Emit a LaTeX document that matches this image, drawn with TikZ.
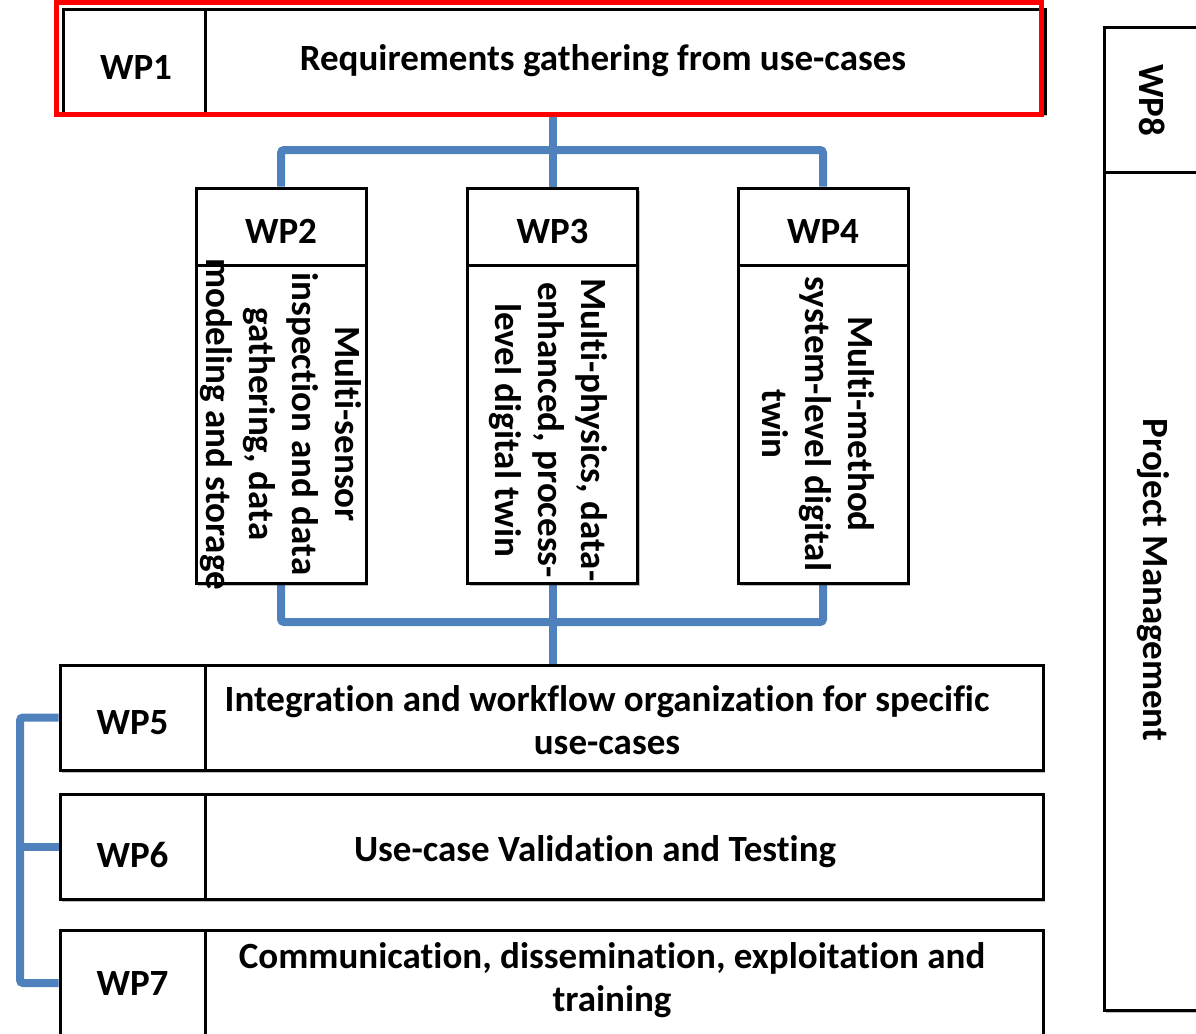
\documentclass[tikz,border=0pt]{standalone}
\usepackage{fontspec}
\setmainfont{Carlito}[Ligatures=NoCommon]
\usetikzlibrary{shadows, backgrounds}

\definecolor{linkblue}{RGB}{79,129,189}
\newcommand{\wpfont}{\fontsize{37}{43}\selectfont\bfseries}
\newcommand{\wplow}[2]{\raisebox{-#1}[\height][0pt]{#2}}

\tikzset{
    wpbox/.style={shape=rectangle, draw=black, line width=3pt, fill=white, inner sep=0pt,
                  font=\wpfont,
                  drop shadow={shadow xshift=2pt, shadow yshift=-3pt, opacity=0.25, fill=black}},
    wptext/.style={font=\wpfont, align=center, inner sep=0pt},
    link/.style={draw=linkblue, line width=8pt, rounded corners=3pt},
}

\begin{document}
\begin{tikzpicture}[x=1pt, y=-1pt]
\path[use as bounding box, clip] (0,0) rectangle (1196,1033);

\begin{scope}[every node/.style={wpbox}]
    \node (wp1lab) at (136, 61.5) [minimum width=146pt, minimum height=103pt] {\wplow{6pt}{WP1}};
    \node (wp1) at (625, 61.5) [minimum width=840pt, minimum height=103pt] {};

    \node (wp2head) at (281, 226.5) [minimum width=170pt, minimum height=77pt] {\wplow{5pt}{WP2}};
    \node (wp2body) at (281, 424) [minimum width=170pt, minimum height=318pt] {};
    \node (wp3head) at (552.5, 226.5) [minimum width=170pt, minimum height=77pt] {\wplow{5pt}{WP3}};
    \node (wp3body) at (552.5, 424) [minimum width=170pt, minimum height=318pt] {};
    \node (wp4head) at (823, 226.5) [minimum width=170pt, minimum height=77pt] {\wplow{5pt}{WP4}};
    \node (wp4body) at (823, 424) [minimum width=170pt, minimum height=318pt] {};

    \node (wp5lab) at (132.5, 717.5) [minimum width=145pt, minimum height=105pt] {\wplow{5pt}{WP5}};
    \node (wp5) at (624, 717.5) [minimum width=838pt, minimum height=105pt] {};
    \node (wp6lab) at (132.5, 846.5) [minimum width=145pt, minimum height=105pt] {\wplow{8pt}{WP6}};
    \node (wp6) at (624, 846.5) [minimum width=838pt, minimum height=105pt] {};
    \node (wp7lab) at (132.5, 983) [minimum width=145pt, minimum height=106pt] {WP7};
    \node (wp7) at (624, 983) [minimum width=838pt, minimum height=106pt] {};

    \node (wp8head) at (1152, 100) [minimum width=96pt, minimum height=144pt] {\rotatebox{-90}{WP8}};
    \node (wp8body) at (1152, 591) [minimum width=96pt, minimum height=838pt] {};
\end{scope}

% red frame round WP1
\draw[red, line width=5pt] ([shift={(-5,-6)}]wp1lab.north west) rectangle ([shift={(-5,0)}]wp1.south east);

\begin{scope}[every node/.style={wptext}]
    \node (wp1text) at (603, 61) {Requirements gathering from use-cases};
    \node (wp2text) at (281, 424) [rotate=-90] {Multi-sensor\\inspection and data\\gathering, data\\modeling and storage};
    \node (wp3text) at (548, 430) [rotate=-90] {Multi-physics, data-\\enhanced, process-\\level digital twin};
    \node (wp4text) at (818, 424) [rotate=-90] {Multi-method\\system-level digital\\twin};
    \node (wp5text) at (607, 720) {Integration and workflow organization for specific\\use-cases};
    \node (wp6text) at (595, 852) {Use-case Validation and Testing};
    \node (wp7text) at (612, 980) {Communication, dissemination, exploitation and\\training};
    \node (wp8text) at (1153, 580) [rotate=-90] {Project Management};
\end{scope}

\begin{scope}[on background layer]
    \coordinate (split) at (552.5, 150);
    \coordinate (join) at (552.5, 622);
    \coordinate (rail) at (20, 0);

    \draw[link] (wp1.south -| split) -- (wp3head.north);
    \draw[link] (wp2head.north) |- (split) -| (wp4head.north);

    \draw[link] (wp2body.south) |- (join) -| (wp4body.south);
    \draw[link] (wp3body.south) -- (wp5.north -| join);

    \draw[link] (wp5lab.west) -- (wp5lab.west -| rail) -- (wp7lab.west -| rail) -- (wp7lab.west);
    \draw[link] (wp6lab.west -| rail) -- (wp6lab.west);
\end{scope}
\end{tikzpicture}
\end{document}
